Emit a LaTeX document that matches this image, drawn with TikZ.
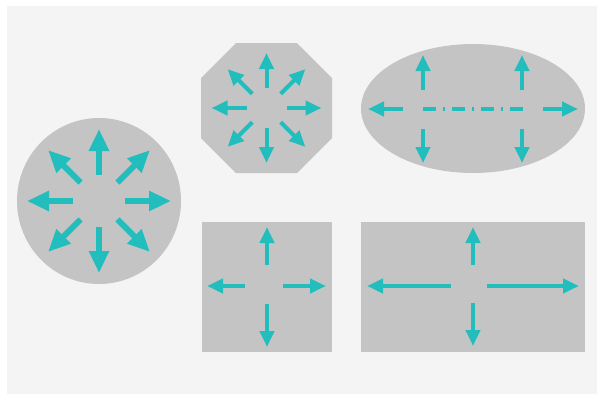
\documentclass[tikz,border=0pt]{standalone}
\usetikzlibrary{arrows.meta}
\definecolor{panelgray}{HTML}{F4F4F4}
\definecolor{shapegray}{HTML}{C4C4C4}
\definecolor{arrowteal}{HTML}{22BDBD}

\begin{document}
\begin{tikzpicture}[x=1pt,y=-1pt,
 bigarr/.style={line width=6pt,arrowteal,-{Triangle[length=22pt,width=19pt]}},
 smallarr/.style={line width=4pt,arrowteal,-{Triangle[length=16pt,width=14pt]}}]
 \useasboundingbox (0,0) rectangle (603,397);
 \fill[panelgray] (7,6) rectangle (597,394);
 % round shape, eight directions
 \fill[shapegray] (99,201) ellipse (82 and 83);
 \begin{scope}[shift={(99,201)}]
  \foreach \a in {0,45,...,315}{\draw[bigarr] (\a:26)--(\a:72);}
 \end{scope}
 % octagon
 \fill[shapegray] (236,43)--(297,43)--(332,78)--(332,138)--(297,173)--(236,173)--(201,138)--(201,78)--cycle;
 \begin{scope}[shift={(266.5,108)}]
  \foreach \a in {0,45,...,315}{\draw[smallarr] (\a:20)--(\a:55);}
 \end{scope}
 % ellipse with dash-dot axis
 \fill[shapegray] (473,108.5) ellipse (112 and 64.5);
 \draw[line width=4pt,arrowteal,dash pattern=on 13pt off 7pt on 2pt off 7pt] (423,109)--(523,109);
 \draw[smallarr] (403,109)--(368,109);
 \draw[smallarr] (543,109)--(578,109);
 \foreach \x in {423,522}{
  \draw[smallarr] (\x,90)--(\x,55);
  \draw[smallarr] (\x,129)--(\x,163);
 }
 % square
 \fill[shapegray] (202,222) rectangle (332,352);
 \draw[smallarr] (267,265)--(267,227);
 \draw[smallarr] (267,304)--(267,347);
 \draw[smallarr] (245,286)--(207,286);
 \draw[smallarr] (283,286)--(326,286);
 % wide rectangle
 \fill[shapegray] (361,222) rectangle (585,352);
 \draw[smallarr] (473,265)--(473,227);
 \draw[smallarr] (473,303)--(473,346);
 \draw[smallarr] (451,286)--(367,286);
 \draw[smallarr] (487,286)--(579,286);
\end{tikzpicture}
\end{document}
